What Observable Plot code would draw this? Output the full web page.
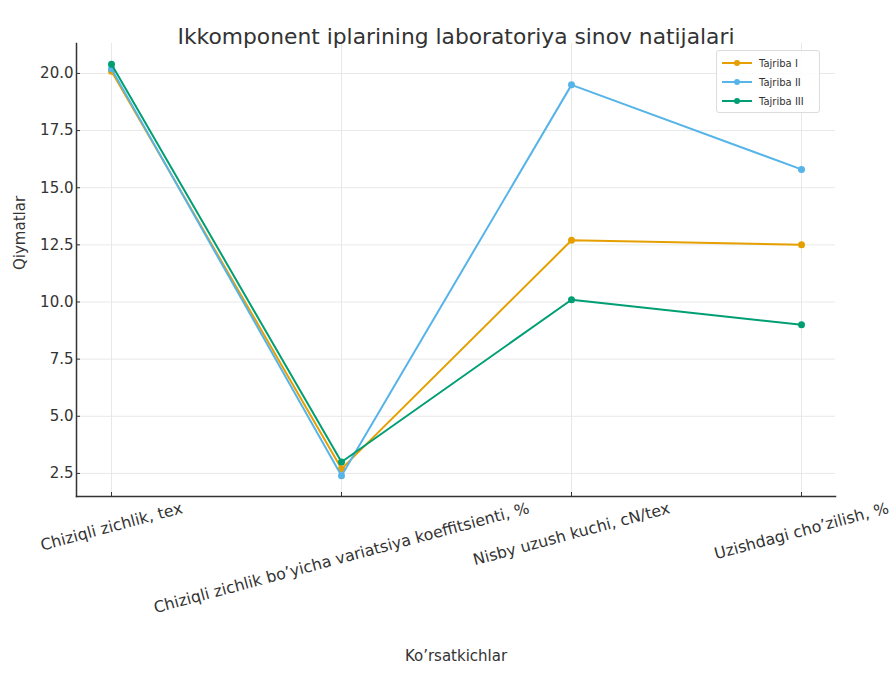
<!DOCTYPE html>
<html><head><meta charset="utf-8">
<script src="https://cdn.jsdelivr.net/npm/d3@7"></script>
<script src="https://cdn.jsdelivr.net/npm/@observablehq/plot@0.6"></script>
<style>
body{margin:0;background:#fff;font-family:"DejaVu Sans",sans-serif;}
#wrap{position:relative;width:890px;height:673px;}
#legend{position:absolute;left:716px;top:50px;width:104px;height:63px;box-sizing:border-box;border:1px solid #dcdcdc;border-radius:3px;background:rgba(255,255,255,0.85);font-size:10px;color:#333;}
.row{position:absolute;left:0;height:14px;display:flex;align-items:center;}
.row svg{margin-left:5px;margin-right:7px;}
</style>
</head><body><div id="wrap"></div>
<script>
const categories = ["Chiziqli zichlik, tex", "Chiziqli zichlik bo’yicha variatsiya koeffitsienti, %", "Nisby uzush kuchi, cN/tex", "Uzishdagi cho’zilish, %"];
const seriesNames = ["Tajriba I", "Tajriba II", "Tajriba III"];
const tajriba1 = [20.1, 2.7, 12.7, 12.5];
const tajriba2 = [20.2, 2.4, 19.5, 15.8];
const tajriba3 = [20.4, 3.0, 10.1, 9.0];
const colors = ["#E69F00", "#56B4E9", "#009E73"];
const yTicks = [2.5, 5, 7.5, 10, 12.5, 15, 17.5, 20];
const yDomain = [1.49, 21.31];
const title = "Ikkomponent iplarining laboratoriya sinov natijalari";
const xLabel = "Ko’rsatkichlar";
const yLabel = "Qiymatlar";

const seriesValues = [tajriba1, tajriba2, tajriba3];
const rows = [];
seriesNames.forEach((s, i) => seriesValues[i].forEach((v, j) => rows.push({series: s, cat: categories[j], value: v})));

const fontPx = 15, xFontPx = 15.8, rot = 15 * Math.PI / 180;
const ctx = document.createElement("canvas").getContext("2d");
ctx.font = xFontPx + "px 'DejaVu Sans'";
const labelMarks = categories.map(c => {
  const w = ctx.measureText(c).width;
  const H = w * Math.sin(rot) + xFontPx * 1.1 * Math.cos(rot);
  return Plot.text([c], {x: d => d, frameAnchor: "bottom", dy: 3 + H / 2, rotate: -15, textAnchor: "middle", lineAnchor: "middle", fontSize: xFontPx, fill: "#333"});
});

const seriesMarks = seriesNames.flatMap(s => [
  Plot.line(rows.filter(r => r.series === s), {x: "cat", y: "value", stroke: "series", strokeWidth: 2}),
  Plot.dot(rows.filter(r => r.series === s), {x: "cat", y: "value", fill: "series", r: 3.5})
]);

const chart = Plot.plot({
  width: 890, height: 673,
  marginLeft: 76, marginRight: 55, marginTop: 43, marginBottom: 177,
  style: {fontFamily: "DejaVu Sans", background: "white"},
  x: {type: "point", domain: categories, padding: 0.15, axis: null, label: null},
  y: {domain: yDomain, axis: null, label: null},
  color: {domain: seriesNames, range: colors},
  marks: [
    Plot.gridX(categories, {stroke: "#e8e8e8", strokeOpacity: 1}),
    Plot.gridY(yTicks, {stroke: "#e8e8e8", strokeOpacity: 1}),
    Plot.axisY(yTicks, {anchor: "left", label: null, tickSize: -4, tickPadding: 7, tickFormat: d => d.toFixed(1), fontSize: fontPx, fill: "#333", stroke: "#333"}),
    Plot.axisX(categories, {anchor: "bottom", label: null, tickSize: -4, tickFormat: () => "", stroke: "#333"}),
    Plot.frame({anchor: "left", stroke: "#333", strokeWidth: 1.5}),
    Plot.frame({anchor: "bottom", stroke: "#333", strokeWidth: 1.5}),
    ...seriesMarks,
    ...labelMarks,
    Plot.text([yLabel], {frameAnchor: "left", dx: -56, rotate: -90, fontSize: fontPx, fill: "#333"}),
    Plot.text([xLabel], {frameAnchor: "bottom", dy: 164, fontSize: fontPx, fill: "#333"}),
    Plot.text([title], {frameAnchor: "top", dy: -15, fontSize: 21.8, fill: "#333"})
  ]
});
const wrap = document.getElementById("wrap");
wrap.appendChild(chart);

const legend = document.createElement("div");
legend.id = "legend";
seriesNames.forEach((s, i) => {
  const row = document.createElement("div");
  row.className = "row";
  row.style.top = (5 + i * 19) + "px";
  row.innerHTML = `<svg width="30" height="10"><line x1="0" y1="5" x2="30" y2="5" stroke="${colors[i]}" stroke-width="2"/><circle cx="15" cy="5" r="3" fill="${colors[i]}"/></svg><span>${s}</span>`;
  legend.appendChild(row);
});
wrap.appendChild(legend);
</script></body></html>
